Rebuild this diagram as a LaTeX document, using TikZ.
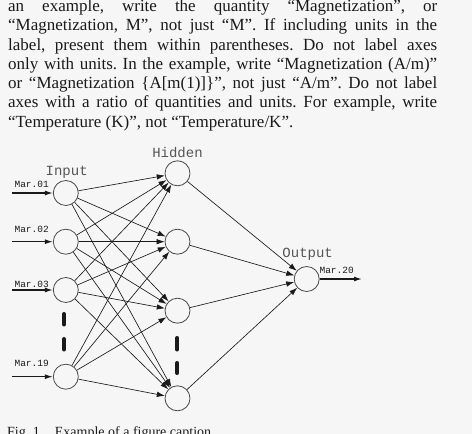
\documentclass[tikz,border=0pt]{standalone}
\usepackage{fontspec}
\setmainfont{Liberation Serif}
\setmonofont{Liberation Mono}
\usepackage{tikz}
\usetikzlibrary{arrows.meta}
\definecolor{PageGray}{HTML}{F6F6F6}
\definecolor{InkBlack}{HTML}{1A1A1A}
\definecolor{RingGray}{HTML}{4A4A4A}
\definecolor{LabelGray}{HTML}{555555}
\frenchspacing

\tikzset{
  neuron/.style={circle, draw=RingGray, line width=0.8pt,
                 minimum size=25pt, inner sep=0pt},
  layername/.style={font=\ttfamily\fontsize{14}{14}\selectfont,
                    text=LabelGray, inner sep=0pt},
  signame/.style={font=\ttfamily\fontsize{9.5}{9.5}\selectfont,
                  text=InkBlack, inner sep=0pt},
  link/.style={-{Latex[length=8pt,width=5.5pt]}, InkBlack, line width=0.65pt},
  feed/.style={-{Latex[length=8pt,width=5pt]}, InkBlack, line width=1.3pt},
  skipmark/.style={InkBlack, line width=4pt, line cap=round}
}

\begin{document}
\begin{tikzpicture}[x=1pt, y=-1pt]

\path[use as bounding box, fill=PageGray] (0,0) rectangle (472,434);
\clip (0,0) rectangle (472,434);

% ── Body text ─────────────────────────────────────────────────────────────────
\node[anchor=base west, inner sep=0pt, text width=429pt, align=justify,
      text=InkBlack, font=\fontsize{17}{19.3}\selectfont] (para) at (8, 11.5) {%
  \hbadness=10000
  an example, write the quantity “Magnetization”, or\linebreak
  “Magnetization, M”, not just “M”. If including units in the\linebreak
  label, present them within parentheses. Do not label axes\linebreak
  only with units. In the example, write “Magnetization (A/m)”\linebreak
  or “Magnetization \{A[m(1)]\}”, not just “A/m”. Do not label\linebreak
  axes with a ratio of quantities and units. For example, write\linebreak
  “Temperature (K)”, not “Temperature/K”.};

% ── Layers ────────────────────────────────────────────────────────────────────
\node[neuron] (in1) at (65.8, 193.0) {};
\node[neuron] (in2) at (65.8, 241.7) {};
\node[neuron] (in3) at (65.8, 290.0) {};
\node[neuron] (in4) at (65.8, 376.7) {};

\node[neuron] (hid1) at (177.5, 173.3) {};
\node[neuron] (hid2) at (177.5, 241.7) {};
\node[neuron] (hid3) at (177.5, 310.7) {};
\node[neuron] (hid4) at (177.5, 398.3) {};

\node[neuron] (out) at (306.7, 279.0) {};

\node[layername] (inname)  at (66.7, 172.0) {Input};
\node[layername] (hidname) at (177.5, 152.7) {Hidden};
\node[layername] (outname) at (307.7, 254.0) {Output};

% ── Signals ───────────────────────────────────────────────────────────────────
\node[signame] (sig1) at (31.7, 184.3) {Mar.01};
\node[signame] (sig2) at (31.7, 229.3) {Mar.02};
\node[signame] (sig3) at (31.7, 284.0) {Mar.03};
\node[signame] (sig4) at (31.7, 363.3) {Mar.19};
\node[signame] (sig5) at (336.7, 270.0) {Mar.20};

\foreach \i/\y in {1/193.0, 2/241.7, 3/290.0, 4/376.7}{
  \coordinate (src\i) at (12, \y);
  \draw[feed] (src\i) -- (in\i);
}
\coordinate (sink) at (362, 279.0);
\draw[feed] (out) -- (sink);

% ── Connections ───────────────────────────────────────────────────────────────
\foreach \i in {1,...,4}{
  \foreach \j in {1,...,4}{
    \draw[link] (in\i) -- (hid\j);
  }
  \draw[link] (hid\i) -- (out);
}

% ── Skipped units ─────────────────────────────────────────────────────────────
\draw[skipmark] (64.0, 314.0) -- (64.0, 324.5);
\draw[skipmark] (64.0, 339.0) -- (64.0, 349.5);
\draw[skipmark] (177.3, 338.0) -- (177.3, 349.5);
\draw[skipmark] (177.3, 363.0) -- (177.3, 373.0);

% ── Caption ───────────────────────────────────────────────────────────────────
\node[anchor=base west, inner sep=0pt, text=InkBlack,
      font=\fontsize{14}{14}\selectfont] (caption) at (7, 436)
  {Fig. 1\hspace{15pt}Example of a figure caption};

\end{tikzpicture}
\end{document}
